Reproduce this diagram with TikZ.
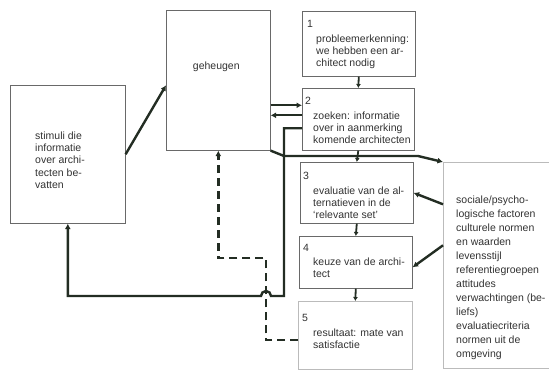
\documentclass[tikz,border=0pt]{standalone}
\usepackage{fontspec}
\setmainfont{Liberation Sans}
\usepackage{tikz}
\usetikzlibrary{arrows.meta,positioning}
\definecolor{inkline}{RGB}{35,45,35}
\definecolor{inktext}{RGB}{50,50,50}
\definecolor{boxgray}{RGB}{105,105,105}

\begin{document}
\begin{tikzpicture}[
  x=1pt, y=-1pt,
  box/.style={draw=boxgray,line width=0.6pt,anchor=north west,inner sep=0pt},
  faintbox/.style={box,draw=boxgray!45},
  txt/.style={anchor=north west,yshift=7.6pt,align=left,inner sep=0pt,text=inktext,font=\fontsize{10.5}{12.3}\selectfont},
  facttxt/.style={txt,font=\fontsize{10.5}{14}\selectfont},
  link/.style={-{Latex[length=5.5pt,width=6pt]},line width=2.4pt,draw=inkline},
  stepto/.style={-{Latex[length=4pt,width=5pt]},line width=1.8pt,draw=inkline},
  feedback/.style={link,dash pattern=on 8pt off 5pt}
]
\useasboundingbox (0,0) rectangle (549,371);
\clip (0,0) rectangle (549,371);

% boxes
\node[box,minimum width=115,minimum height=138] (stimuli) at (10,85) {};
\node[box,minimum width=104,minimum height=140] (geheugen) at (166,10) {};
\node[box,minimum width=113,minimum height=65] (prob) at (302,11) {};
\node[box,minimum width=112,minimum height=62] (zoek) at (302,88) {};
\node[box,minimum width=113,minimum height=61] (eval) at (300,162) {};
\node[box,minimum width=113,minimum height=52] (keuze) at (299,236) {};
\node[faintbox,minimum width=114,minimum height=68] (result) at (298,301) {};
\node[faintbox,minimum width=160,minimum height=206] (factors) at (443,162) {};

% texts
\node[txt] (stimulitxt) at ([shift={(25,54)}]stimuli.north west) {stimuli die\\informatie\\over archi-\\tecten be-\\vatten};
\node[txt,anchor=base,yshift=0pt] (geheugentxt) at ([shift={(-2,67)}]geheugen.north) {geheugen};
\node[txt] (probnum) at ([shift={(5,17)}]prob.north west) {1};
\node[txt] (probtxt) at ([shift={(14,31)}]prob.north west) {probleemerkenning:\\we hebben een ar-\\chitect nodig};
\node[txt] (zoeknum) at ([shift={(3,17)}]zoek.north west) {2};
\node[txt] (zoektxt) at ([shift={(11,31)}]zoek.north west) {zoeken: informatie\\over in aanmerking\\komende architecten};
\node[txt] (evalnum) at ([shift={(3,18)}]eval.north west) {3};
\node[txt] (evaltxt) at ([shift={(13,32)}]eval.north west) {evaluatie van de al-\\ternatieven in de\\`relevante set'};
\node[txt] (keuzenum) at ([shift={(4,16)}]keuze.north west) {4};
\node[txt] (keuzetxt) at ([shift={(14,29)}]keuze.north west) {keuze van de archi-\\tect};
\node[txt] (resultnum) at ([shift={(4,21)}]result.north west) {5};
\node[txt] (resulttxt) at ([shift={(15,35)}]result.north west) {resultaat: mate van\\satisfactie};
\node[facttxt] (factorstxt) at ([shift={(13,41)}]factors.north west) {sociale/psycho-\\logische factoren\\culturele normen\\en waarden\\levensstijl\\referentiegroepen\\attitudes\\verwachtingen (be-\\liefs)\\evaluatiecriteria\\normen uit de\\omgeving};

% connectors
\draw[link] (stimuli.east) -- ([yshift=-5pt]geheugen.west);
\draw[link] ([yshift=14pt]zoek.west -| geheugen.east) -- ([yshift=14pt]zoek.west);
\draw[link] ([yshift=4pt]zoek.west) -- ([yshift=4pt]zoek.west -| geheugen.east);
\draw[link] ([yshift=-9pt]zoek.west) -| (284,296) -- (271,296) arc (0:-180:5) -| (stimuli.south);
\draw[link] (geheugen.south east) -- (284,156) -- (418,156) -- (factors.north west);
\draw[link] ([yshift=61pt]factors.west) -- (eval.east);
\draw[link] ([yshift=20pt]factors.west) -- ([yshift=-5pt]keuze.east);
\draw[feedback] ([yshift=-5pt]result.west) -| (266,258) -| (geheugen.south);
\draw[stepto] (prob.south) -- (zoek.north);
\draw[stepto] (zoek.south) -- (eval.north);
\draw[stepto] (eval.south) -- (keuze.north);
\draw[stepto] (keuze.south) -- (result.north);
\end{tikzpicture}
\end{document}
